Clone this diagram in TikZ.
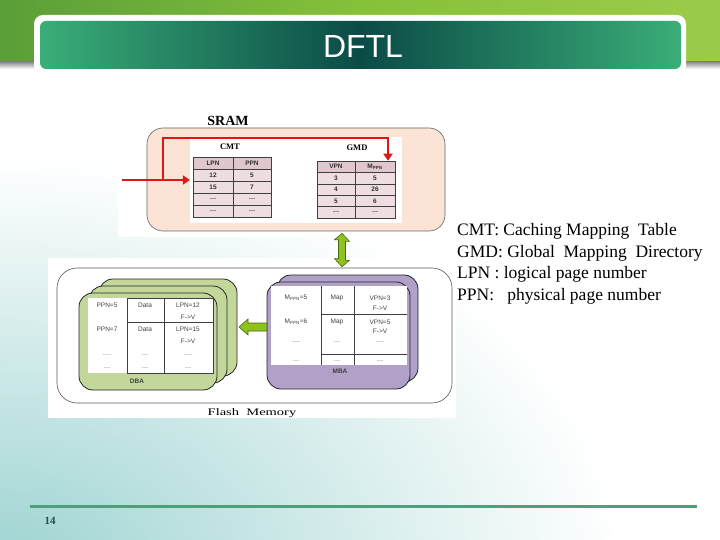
\documentclass[tikz,border=0pt]{standalone}
\usepackage{fontspec}
\setmainfont{Liberation Serif}
\setsansfont{Liberation Sans}
\usetikzlibrary{arrows.meta,calc}
\definecolor{water}{HTML}{9ED4D2}
\definecolor{bandL}{HTML}{5A9E38}
\definecolor{bandM}{HTML}{86C13A}
\definecolor{bandR}{HTML}{9CCB4A}
\definecolor{tg}{HTML}{3AAE78}
\definecolor{tdark}{HTML}{0B4B47}
\definecolor{lineg}{HTML}{4DA07A}
\definecolor{numc}{HTML}{1E4D4D}
\definecolor{peach}{HTML}{FBE4D5}
\definecolor{hdr}{HTML}{E0C6CD}
\definecolor{cellc}{HTML}{EEDDE1}
\definecolor{redc}{HTML}{E01515}
\definecolor{olive}{HTML}{C4D79B}
\definecolor{lav}{HTML}{B1A0C7}
\definecolor{agreen}{HTML}{8DC21F}
\definecolor{agreend}{HTML}{4A6B10}
\tikzset{
  tline/.style={draw=black!75, line width=0.5pt},
  ctext/.style={font=\sffamily\bfseries\fontsize{6.5}{7}\selectfont, text=black!80, inner sep=0},
  stext/.style={font=\sffamily\fontsize{6.5}{7}\selectfont, text=black!75, inner sep=0},
  redarr/.style={draw=redc, line width=2.8pt, -{Triangle[length=7pt,width=9pt]}},
  layer/.style={draw=black!85, line width=0.8pt, rounded corners=14},
  blockarr/.style={fill=agreen, draw=agreend, line width=0.6pt},
  legend/.style={font=\fontsize{17.5}{19}\selectfont, anchor=west, inner sep=0},
}
\begin{document}
\begin{tikzpicture}[x=1pt,y=-1pt]
\useasboundingbox (0,0) rectangle (720,540);
\begin{scope}
\clip (0,0) rectangle (720,540);
% water background
\shade[inner color=water, outer color=white] (0,560) ellipse [x radius=620, y radius=400];
% top band
\shade[left color=bandL, right color=bandR, middle color=bandM] (0,0) rectangle (720,63);
\shade[top color=black!45, bottom color=white] (0,62) rectangle (720,69);
\end{scope}
% title bar
\fill[white, rounded corners=9] (34,15) rectangle (686,74);
\shade[left color=tg, right color=tg, middle color=tdark, rounded corners=6] (40,21) rectangle (681,69);
\node[font=\sffamily\fontsize{32}{32}\selectfont, text=white, inner sep=0] (title) at (363,46) {DFTL};
% footer
\draw[lineg, line width=3pt] (30,506) -- (697,506);
\node[font=\bfseries\fontsize{11}{11}\selectfont, text=numc, inner sep=0] (pnum) at (50,521) {14};

% ---------- SRAM picture ----------
\fill[white] (118,108) rectangle (452,237);
\node[font=\bfseries\fontsize{14}{14}\selectfont, inner sep=0] (sramlbl) at (228,121) {SRAM};
\node[draw=black!60, line width=0.6pt, fill=peach, rounded corners=16, minimum width=298, minimum height=103, inner sep=0] (sram) at (296,179.5) {};
\fill[white] (190,137) rectangle (402,223);
\node[font=\bfseries\fontsize{8.5}{9}\selectfont, inner sep=0] (cmtlbl) at (230,147) {CMT};
\node[font=\bfseries\fontsize{8.5}{9}\selectfont, inner sep=0] (gmdlbl) at (357,148) {GMD};
% CMT table
\node[inner sep=0, minimum width=78, minimum height=60] (cmt) at (232,187) {};
\foreach \yt/\yb/\f/\l/\r in {157/169/hdr/LPN/PPN,169/181/cellc/12/5,181/193/cellc/15/7,193/205/cellc/\ldots/\ldots,205/217/cellc/\ldots/\ldots}{
  \draw[tline, fill=\f] (193,\yt) rectangle (233,\yb);
  \draw[tline, fill=\f] (233,\yt) rectangle (271,\yb);
  \node[ctext] at (213,{(\yt+\yb)/2}) {\l};
  \node[ctext] at (252,{(\yt+\yb)/2}) {\r};
}
% GMD table
\node[inner sep=0, minimum width=78, minimum height=57] (gmd) at (356,189.5) {};
\foreach \yt/\yb/\l/\r in {172.4/183.8/3/5,183.8/195.2/4/26,195.2/206.6/5/6,206.6/218/\ldots/\ldots}{
  \draw[tline, fill=cellc] (317,\yt) rectangle (355,\yb);
  \draw[tline, fill=cellc] (355,\yt) rectangle (395,\yb);
  \node[ctext] at (336,{(\yt+\yb)/2}) {\l};
  \node[ctext] at (375,{(\yt+\yb)/2}) {\r};
}
\draw[tline, fill=hdr] (317,161) rectangle (355,172.4);
\node[ctext] (gmdV) at (336,166.7) {VPN};
\node[tline, fill=hdr, minimum width=40, minimum height=11.4, inner sep=0] (gmdM) at (375,166.7) {};
\node[ctext] at (gmdM) {M\textsubscript{PPN}};
% red arrows
\coordinate (in) at (122,180);
\coordinate (br) at (163,180);
\coordinate (gtop) at (388,138);
\draw[redarr] (in) -- ([xshift=-3pt]cmt.west |- in);
\draw[redarr] (br) |- (gtop) -- (gtop |- gmdM.north);

% ---------- Flash picture ----------
\fill[white] (48,258) rectangle (456,418);
\node[draw=black!65, line width=0.6pt, rounded corners=20, minimum width=395, minimum height=135, inner sep=0] (flash) at (254.5,335.5) {};
\node[font=\fontsize{10}{10}\selectfont, inner sep=0] (flashlbl) at (252,413) {\scalebox{1.45}[1]{Flash~~Memory}};
% DBA stack
\draw[layer, fill=olive] (99,279) rectangle (237,376);
\draw[layer, fill=olive] (89,286) rectangle (227,383);
\node[layer, fill=olive, minimum width=138, minimum height=97, inner sep=0] (dba) at (148,341.5) {};
\fill[white] (88,298) rectangle (213,373);
\draw[tline] (127,298) -- (213,298) -- (213,373) -- (127,373) -- cycle;
\draw[tline] (164,298) -- (164,373);
\draw[tline] (127,322) -- (213,322);
\foreach \y/\a/\b/\c in {305/PPN=5/Data/LPN=12,317///F->V,329/PPN=7/Data/LPN=15,341///F->V,355/\ldots./\ldots/\ldots.,368/\ldots/\ldots/\ldots}{
  \node[stext] at (107,\y) {\a};
  \node[stext] at (145,\y) {\b};
  \node[stext] at (188,\y) {\c};
}
\node[stext, font=\sffamily\bfseries\fontsize{6.5}{7}\selectfont] (dbalbl) at (137,381) {DBA};
% MBA stack
\draw[layer, fill=lav] (277,275) rectangle (418,382);
\node[layer, fill=lav, minimum width=143, minimum height=107, inner sep=0] (mba) at (338.5,335.5) {};
\fill[white] (271,286) rectangle (407,365);
\draw[tline] (321,286) -- (321,365);
\draw[tline] (354,286) -- (354,365);
\draw[tline] (321,314) -- (407,314);
\draw[tline] (321,354) -- (407,354);
\foreach \y/\a/\b/\c in {298/M\textsubscript{PPN}=5/Map/VPN=3,308///F->V,322/M\textsubscript{PPN}=6/Map/VPN=5,331///F->V,342/\ldots./\ldots/\ldots.,361/\ldots/\ldots/\ldots}{
  \node[stext] at (296,\y) {\a};
  \node[stext] at (337,\y) {\b};
  \node[stext] at (380,\y) {\c};
}
\node[stext, font=\sffamily\bfseries\fontsize{6.5}{7}\selectfont] (mbalbl) at (340,371) {MBA};
% block arrows
\coordinate (dt) at (sram.south -| 342,0);
\coordinate (lt) at (239,327);
\draw[blockarr] ([yshift=-2pt]dt) -- ++(7.5,8) -- ++(-4,0) -- ++(0,19) -- ++(4,0) -- ([yshift=1pt]flash.north -| dt)
  -- ++(-7.5,-8) -- ++(4,0) -- ++(0,-19) -- ++(-4,0) -- cycle;
\draw[blockarr] (lt) -- ++(9,-8) -- ++(0,4) -- ++(19,0) -- ++(0,8) -- ++(-19,0) -- ++(0,4) -- cycle;

% legend
\node[legend] (l1) at (457,231) {CMT: Caching Mapping~~Table};
\node[legend] (l2) at (457,253) {GMD: Global~~Mapping~~Directory};
\node[legend] (l3) at (457,274.5) {LPN~: logical page number};
\node[legend] (l4) at (457,296) {PPN:~~~physical page number};
\end{tikzpicture}
\end{document}
